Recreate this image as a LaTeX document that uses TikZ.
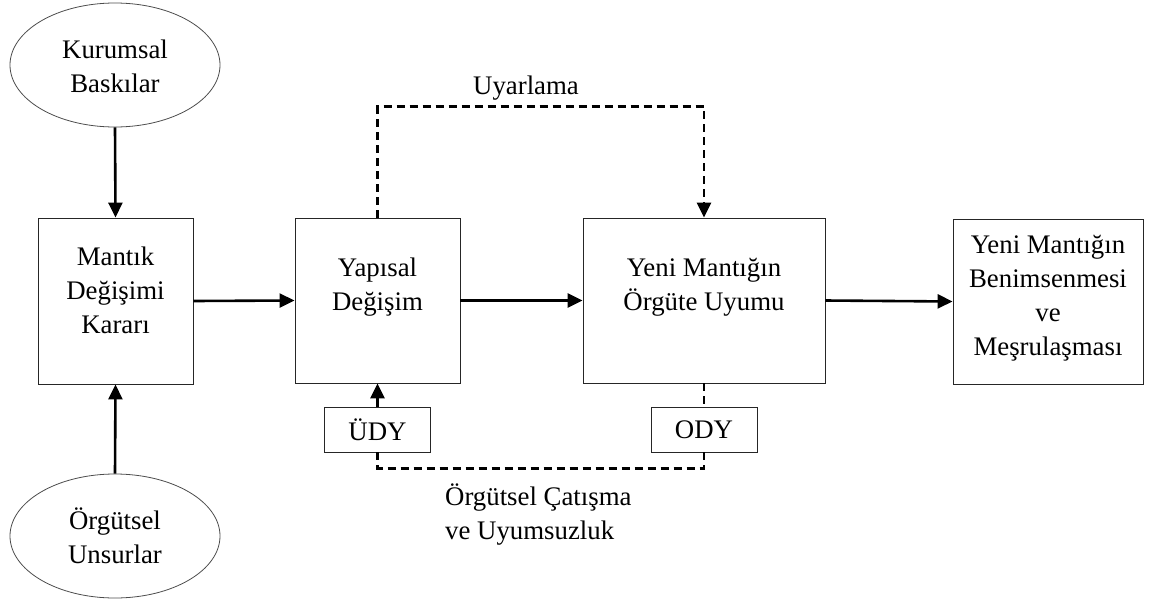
\documentclass[tikz,border=0pt]{standalone}
\usepackage{fontspec}
\setmainfont{Liberation Serif}
\usetikzlibrary{shapes.geometric,arrows.meta}
\begin{document}
\begin{tikzpicture}[x=1pt,y=-1pt,
  every node/.style={font=\fontsize{26.8}{34}\selectfont},
  oval/.style={ellipse,draw=black!70,line width=0.8pt,minimum width=210,minimum height=124,inner sep=0pt},
  bigbox/.style={rectangle,draw=black!85,line width=0.9pt,inner sep=0pt},
  tagbox/.style={rectangle,draw=black!85,line width=0.9pt,minimum width=106,minimum height=45,inner sep=0pt},
  txt/.style={align=center,inner sep=0pt},
  flow/.style={line width=2.6pt,-{Triangle[length=15pt,width=14pt]}},
  loop/.style={line width=2.6pt,dash pattern=on 8pt off 5pt},
  looparrow/.style={loop,-{Triangle[length=15pt,width=14pt]}}]
\useasboundingbox (0,0) rectangle (1150,605);

% sources
\node[oval] (kb) at (115,65) {};
\node[txt] (kbt) at (115,66) {Kurumsal\\Baskılar};
\node[oval] (ou) at (115,536) {};
\node[txt] (out) at (115,536) {Örgütsel\\Unsurlar};

% main stages
\node[bigbox,minimum width=155,minimum height=166] (md) at (115.5,301) {};
\node[txt] (mdt) at (115.5,290) {Mantık\\Değişimi\\Kararı};
\node[bigbox,minimum width=165,minimum height=165] (yd) at (377.5,300.5) {};
\node[txt] (ydt) at (377.5,287) {Yapısal\\Değişim};
\node[bigbox,minimum width=242,minimum height=165] (yu) at (704,300.5) {};
\node[txt] (yut) at (704,287) {Yeni Mantığın\\Örgüte Uyumu};
\node[bigbox,minimum width=190,minimum height=165] (bm) at (1048,301.5) {};
\node[txt] (bmt) at (1048,298) {Yeni Mantığın\\Benimsenmesi\\ve\\Meşrulaşması};

% feedback tags
\node[tagbox] (udy) at (377.5,429.5) {ÜDY};
\node[tagbox] (ody) at (704,429.5) {ODY};

% labels
\node[txt] (uy) at (526,88) {Uyarlama};
\node[txt,align=left,anchor=west] (oc) at (445,515) {Örgütsel Çatışma\\ve Uyumsuzluk};

% connectors
\draw[flow] (kb.south) -- (md.north);
\draw[flow] (ou.north) -- (md.south);
\draw[flow] (md.east) -- (yd.west);
\draw[flow] (yd.east) -- (yu.west);
\draw[flow] (yu.east) -- (bm.west);
\draw[flow] (udy.north) -- (yd.south);
\draw[looparrow] (yd.north) -- ++(0,-111) -| (yu.north);
\draw[loop] (udy.south) -- ++(0,16) -| (ody.south);
\draw[loop] (yu.south) -- (ody.north);
\end{tikzpicture}
\end{document}
